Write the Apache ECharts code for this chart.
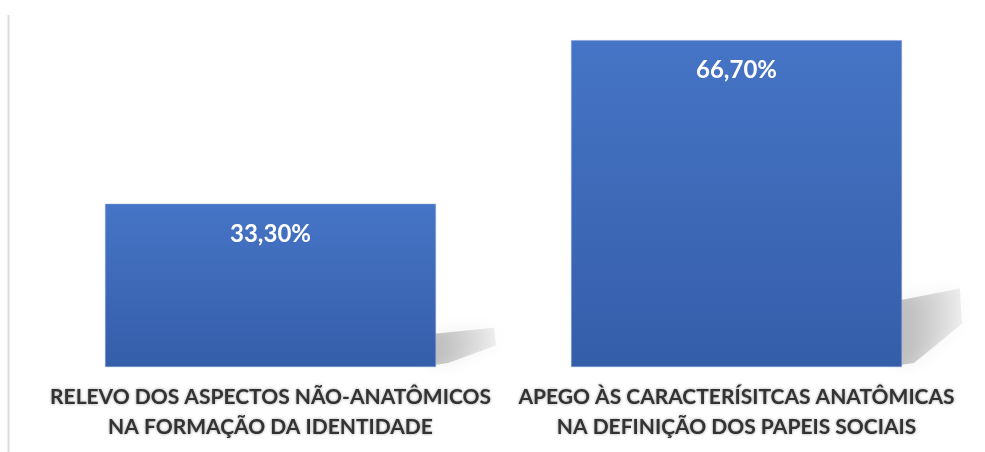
<!DOCTYPE html>
<html>
<head>
<meta charset="utf-8">
<style>
html,body{margin:0;padding:0;background:#fff;}
#chart{width:985px;height:452px;}
</style>
<script src="https://cdn.jsdelivr.net/npm/echarts@6/dist/echarts.min.js"></script>
</head>
<body>
<div id="chart"></div>
<script>
const categories = [
  'RELEVO DOS ASPECTOS NÃO-ANATÔMICOS\nNA FORMAÇÃO DA IDENTIDADE',
  'APEGO ÀS CARACTERÍSITCAS ANATÔMICAS\nNA DEFINIÇÃO DOS PAPEIS SOCIAIS'
];
const values = [33.3, 66.7];

const chart = echarts.init(document.getElementById('chart'));
const fmt = v => v.toFixed(2).replace('.', ',') + '%';

chart.setOption({
  animation: false,
  backgroundColor: '#ffffff',
  grid: { left: 37.5, right: 15.5, top: 24, bottom: 85 },
  graphic: [{
    type: 'line',
    shape: { x1: 8.5, y1: 15, x2: 8.5, y2: 452 },
    style: { stroke: '#dcdcdc', lineWidth: 2 }
  }],
  xAxis: {
    type: 'category',
    data: categories,
    axisLine: { show: false },
    axisTick: { show: false },
    axisLabel: {
      interval: 0,
      margin: 15,
      fontFamily: 'Lato',
      fontWeight: 'bold',
      fontSize: 21,
      lineHeight: 30,
      color: '#333333',
      textShadowColor: 'rgba(0,0,0,0.4)',
      textShadowBlur: 3,
      overflow: 'none'
    }
  },
  yAxis: {
    type: 'value',
    min: 0,
    max: 70,
    show: false,
    splitLine: { show: false }
  },
  series: [
    {
      type: 'custom',
      z: 1,
      silent: true,
      data: values.map((v, i) => [i, v]),
      renderItem: function (params, api) {
        const base = api.coord([api.value(0), 0]);
        const top = api.coord([api.value(0), api.value(1)]);
        const bw = api.size([1, 0])[0] * 0.71;
        const xr = base[0] + bw / 2;
        const h = (base[1] - top[1]) * 0.24;
        const y0 = base[1];
        return {
          type: 'polygon',
          shape: {
            points: [
              [xr - 2, y0 - h * 0.85],
              [xr + 58, y0 - h],
              [xr + 60, y0 - h * 0.55],
              [xr + 12, y0 - 4],
              [xr - 2, y0 - 2]
            ]
          },
          style: {
            fill: new echarts.graphic.LinearGradient(0, 0, 1, 0, [
              { offset: 0, color: 'rgba(0,0,0,0.22)' },
              { offset: 1, color: 'rgba(0,0,0,0.06)' }
            ]),
            shadowBlur: 16,
            shadowColor: 'rgba(0,0,0,0.35)'
          }
        };
      }
    },
    {
      type: 'bar',
      z: 2,
      data: values,
      barWidth: '71%',
      itemStyle: {
        color: new echarts.graphic.LinearGradient(0, 0, 0, 1, [
          { offset: 0, color: '#4674c6' },
          { offset: 1, color: '#355ea9' }
        ]),
        borderColor: '#7f9fd8',
        borderWidth: 0.5
      },
      label: {
        show: true,
        position: 'insideTop',
        distance: 18,
        formatter: p => fmt(p.value),
        fontFamily: 'Lato',
        fontWeight: 'bold',
        fontSize: 24,
        color: '#ffffff'
      }
    }
  ]
});
</script>
</body>
</html>
